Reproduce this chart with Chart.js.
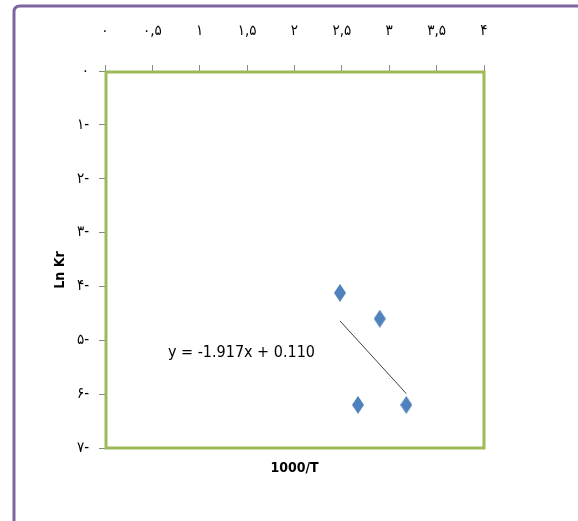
<!DOCTYPE html>
<html>
<head>
<meta charset="utf-8">
<script src="https://cdn.jsdelivr.net/npm/chart.js@4/dist/chart.umd.min.js"></script>
<style>
  html, body { margin: 0; padding: 0; background: #fff; }
  #wrap { width: 578px; height: 521px; position: relative; }
</style>
</head>
<body>
<div id="wrap"><canvas id="chart" width="578" height="521"></canvas></div>
<script>
// data
const pointX = [2.48, 2.90, 2.67, 3.18];
const pointY = [-4.12, -4.60, -6.20, -6.20];
const trendX = [2.48, 3.18];
const trendY = [-4.64, -5.99];
const xTickLabels = ['۰', '۰,۵', '۱', '۱,۵', '۲', '۲,۵', '۳', '۳,۵', '۴'];
const yTickLabels = ['۷-', '۶-', '۵-', '۴-', '۳-', '۲-', '۱-', '۰'];
const equationText = 'y = -1.917x + 0.110';
const xTitle = '1000/T';
const yTitle = 'Ln Kr';

const FONT = '"Liberation Sans Narrow", "DejaVu Sans Condensed", "Liberation Sans", Arial, sans-serif';

// tall blue diamond marker
const diamond = document.createElement('canvas');
diamond.width = 12; diamond.height = 18;
(() => {
    const g = diamond.getContext('2d');
    g.fillStyle = '#4F81BD';
    g.beginPath();
    g.moveTo(6, 0); g.lineTo(12, 9); g.lineTo(6, 18); g.lineTo(0, 9);
    g.closePath();
    g.fill();
})();

const decor = {
    id: 'decor',
    beforeDraw(chart) {
        const c = chart.ctx;
        c.save();
        // outer purple frame
        c.strokeStyle = '#8064A2';
        c.lineWidth = 3;
        const x0 = 14, y0 = 6, r = 6;
        c.beginPath();
        c.moveTo(x0, 530);
        c.lineTo(x0, y0 + r);
        c.quadraticCurveTo(x0, y0, x0 + r, y0);
        c.lineTo(590, y0);
        c.stroke();
        c.restore();
    },
    afterDatasetsDraw(chart) {
        const c = chart.ctx;
        const a = chart.chartArea;
        const xs = chart.scales.x, ys = chart.scales.y;
        c.save();
        // green plot border
        c.strokeStyle = '#9BBB59';
        c.lineWidth = 3;
        c.strokeRect(a.left + 1, a.top + 1, a.right - a.left - 1, a.bottom - a.top - 1);
        // equation
        c.fillStyle = '#000';
        c.font = '16px ' + FONT;
        c.textAlign = 'center';
        c.textBaseline = 'middle';
        c.fillText(equationText, xs.getPixelForValue(1.44), ys.getPixelForValue(-5.24));
        // axis titles
        c.font = 'bold 14px ' + FONT;
        c.fillText(xTitle, (a.left + a.right) / 2, a.bottom + 20);
        c.translate(60, 270);
        c.rotate(-Math.PI / 2);
        c.fillText(yTitle, 0, 0);
        c.restore();
    }
};

new Chart(document.getElementById('chart'), {
    type: 'scatter',
    data: {
        datasets: [{
            label: 'points',
            data: pointX.map((x, i) => ({ x: x, y: pointY[i] })),
            pointStyle: diamond,
            pointRadius: 8,
            order: 1
        }, {
            label: 'trend',
            type: 'line',
            data: trendX.map((x, i) => ({ x: x, y: trendY[i] })),
            borderColor: '#404040',
            borderWidth: 1,
            pointRadius: 0,
            showLine: true,
            order: 2
        }]
    },
    options: {
        responsive: false,
        animation: false,
        layout: { padding: { left: 0, right: 94, top: 0, bottom: 73 } },
        plugins: { legend: { display: false }, tooltip: { enabled: false } },
        scales: {
            x: {
                type: 'linear',
                position: 'top',
                min: 0, max: 4,
                afterFit: s => { s.height = 71; },
                grid: { drawOnChartArea: false, color: '#888', tickLength: 6, drawTicks: true },
                border: { color: '#888' },
                ticks: {
                    stepSize: 0.5,
                    padding: 25,
                    color: '#000',
                    font: { family: FONT, size: 15 },
                    maxRotation: 0,
                    callback: (v, i) => xTickLabels[i]
                }
            },
            y: {
                type: 'linear',
                min: -7, max: 0,
                afterFit: s => { s.width = 105; },
                grid: { drawOnChartArea: false, color: '#888', tickLength: 6 },
                border: { color: '#888' },
                ticks: {
                    stepSize: 1,
                    padding: 10,
                    color: '#000',
                    font: { family: FONT, size: 15 },
                    callback: (v, i) => yTickLabels[i]
                }
            }
        }
    },
    plugins: [decor]
});
</script>
</body>
</html>
